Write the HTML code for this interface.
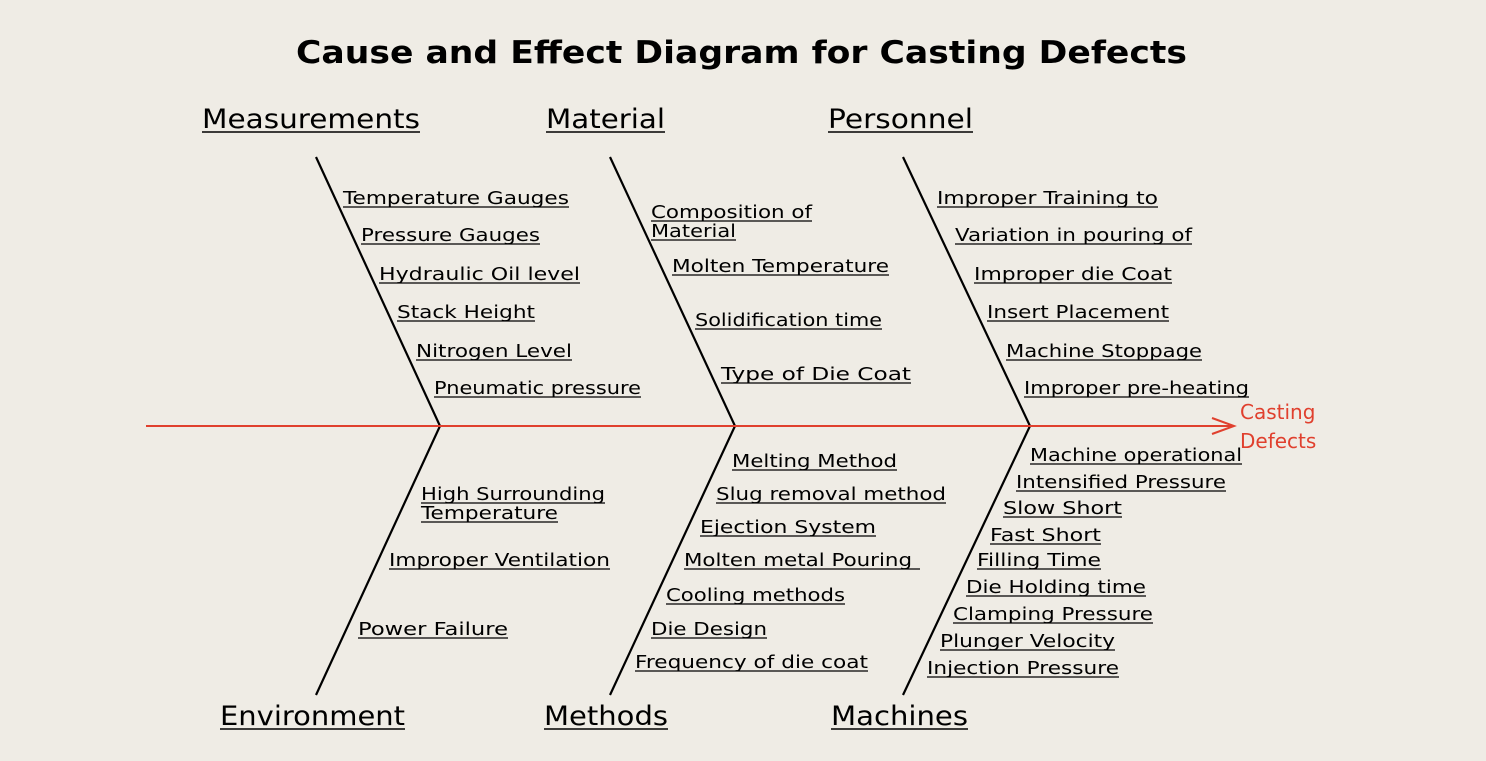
<!DOCTYPE html>
<html><head><meta charset="utf-8"><style>
html,body{margin:0;padding:0;background:#efece5;}
svg{display:block;}
text{font-family:"DejaVu Sans","Liberation Sans",sans-serif;fill:#000;}
</style></head><body>
<svg width="1486" height="761" viewBox="0 0 1486 761" xmlns="http://www.w3.org/2000/svg">
<rect width="1486" height="761" fill="#efece5"/>
<text x="296" y="63" font-size="31" font-weight="bold" textLength="891" lengthAdjust="spacingAndGlyphs">Cause and Effect Diagram for  Casting Defects</text>

<g stroke="#000" stroke-width="2.2" fill="none">
<polyline points="316,157 440,426 316,695"/>
<polyline points="610,157 735,426 610,695"/>
<polyline points="903,157 1030,426 903,695"/>
</g>
<line x1="146" y1="426" x2="1233" y2="426" stroke="#e0402e" stroke-width="2"/>
<polyline points="1212,418 1234,426 1212,434" stroke="#e0402e" stroke-width="2" fill="none"/>
<text x="1240" y="419" font-size="20" fill="#e0402e" style="fill:#e0402e">Casting</text>
<text x="1240" y="448" font-size="20" fill="#e0402e" style="fill:#e0402e">Defects</text>

<g font-size="27">
<text x="202" y="128" textLength="218" lengthAdjust="spacingAndGlyphs">Measurements</text>
<text x="546" y="128" textLength="119" lengthAdjust="spacingAndGlyphs">Material</text>
<text x="828" y="128" textLength="145" lengthAdjust="spacingAndGlyphs">Personnel</text>
<text x="220" y="725" textLength="185" lengthAdjust="spacingAndGlyphs">Environment</text>
<text x="544" y="725" textLength="124" lengthAdjust="spacingAndGlyphs">Methods</text>
<text x="831" y="725" textLength="137" lengthAdjust="spacingAndGlyphs">Machines</text>
</g>
<g stroke="#000" stroke-width="1.6">
<line x1="202" y1="132" x2="420" y2="132"/>
<line x1="546" y1="132" x2="665" y2="132"/>
<line x1="828" y1="132" x2="973" y2="132"/>
<line x1="220" y1="729" x2="405" y2="729"/>
<line x1="544" y1="729" x2="668" y2="729"/>
<line x1="831" y1="729" x2="968" y2="729"/>
</g>

<g font-size="18" lengthAdjust="spacingAndGlyphs">
<text x="343" y="204" textLength="226" lengthAdjust="spacingAndGlyphs">Temperature Gauges</text>
<text x="361" y="241" textLength="179" lengthAdjust="spacingAndGlyphs">Pressure Gauges</text>
<text x="379" y="280" textLength="201" lengthAdjust="spacingAndGlyphs">Hydraulic Oil level</text>
<text x="397" y="318" textLength="138" lengthAdjust="spacingAndGlyphs">Stack Height</text>
<text x="416" y="357" textLength="156" lengthAdjust="spacingAndGlyphs">Nitrogen Level</text>
<text x="434" y="394" textLength="207" lengthAdjust="spacingAndGlyphs">Pneumatic pressure</text>

<text x="651" y="218" textLength="161" lengthAdjust="spacingAndGlyphs">Composition of</text>
<text x="651" y="237" textLength="85" lengthAdjust="spacingAndGlyphs">Material</text>
<text x="672" y="272" textLength="217" lengthAdjust="spacingAndGlyphs">Molten Temperature</text>
<text x="695" y="326" textLength="187" lengthAdjust="spacingAndGlyphs">Solidification time</text>
<text x="721" y="380" textLength="190" lengthAdjust="spacingAndGlyphs">Type of Die Coat</text>

<text x="937" y="204" textLength="221" lengthAdjust="spacingAndGlyphs">Improper Training to</text>
<text x="955" y="241" textLength="237" lengthAdjust="spacingAndGlyphs">Variation in pouring of</text>
<text x="974" y="280" textLength="198" lengthAdjust="spacingAndGlyphs">Improper die Coat</text>
<text x="987" y="318" textLength="182" lengthAdjust="spacingAndGlyphs">Insert Placement</text>
<text x="1006" y="357" textLength="196" lengthAdjust="spacingAndGlyphs">Machine Stoppage</text>
<text x="1024" y="394" textLength="225" lengthAdjust="spacingAndGlyphs">Improper pre-heating</text>

<text x="1030" y="461" textLength="212" lengthAdjust="spacingAndGlyphs">Machine operational</text>
<text x="1016" y="488" textLength="210" lengthAdjust="spacingAndGlyphs">Intensified Pressure</text>
<text x="1003" y="514" textLength="119" lengthAdjust="spacingAndGlyphs">Slow Short</text>
<text x="990" y="541" textLength="111" lengthAdjust="spacingAndGlyphs">Fast Short</text>
<text x="977" y="566" textLength="124" lengthAdjust="spacingAndGlyphs">Filling Time</text>
<text x="966" y="593" textLength="180" lengthAdjust="spacingAndGlyphs">Die Holding time</text>
<text x="953" y="620" textLength="200" lengthAdjust="spacingAndGlyphs">Clamping Pressure</text>
<text x="940" y="647" textLength="175" lengthAdjust="spacingAndGlyphs">Plunger Velocity</text>
<text x="927" y="674" textLength="192" lengthAdjust="spacingAndGlyphs">Injection Pressure</text>

<text x="732" y="467" textLength="165" lengthAdjust="spacingAndGlyphs">Melting Method</text>
<text x="716" y="500" textLength="230" lengthAdjust="spacingAndGlyphs">Slug removal method</text>
<text x="700" y="533" textLength="176" lengthAdjust="spacingAndGlyphs">Ejection System</text>
<text x="684" y="566" textLength="228" lengthAdjust="spacingAndGlyphs">Molten metal Pouring</text>
<text x="666" y="601" textLength="179" lengthAdjust="spacingAndGlyphs">Cooling methods</text>
<text x="651" y="635" textLength="116" lengthAdjust="spacingAndGlyphs">Die Design</text>
<text x="635" y="668" textLength="233" lengthAdjust="spacingAndGlyphs">Frequency of die coat</text>

<text x="421" y="500" textLength="184" lengthAdjust="spacingAndGlyphs">High Surrounding</text>
<text x="421" y="519" textLength="137" lengthAdjust="spacingAndGlyphs">Temperature</text>
<text x="389" y="566" textLength="221" lengthAdjust="spacingAndGlyphs">Improper Ventilation</text>
<text x="358" y="635" textLength="150" lengthAdjust="spacingAndGlyphs">Power Failure</text>
</g>

<g stroke="#000" stroke-width="1.3">
<line x1="343" y1="207" x2="569" y2="207"/>
<line x1="361" y1="244" x2="540" y2="244"/>
<line x1="379" y1="283" x2="580" y2="283"/>
<line x1="397" y1="321" x2="535" y2="321"/>
<line x1="416" y1="360" x2="572" y2="360"/>
<line x1="434" y1="397" x2="641" y2="397"/>
<line x1="651" y1="221" x2="812" y2="221"/>
<line x1="651" y1="240" x2="736" y2="240"/>
<line x1="672" y1="275" x2="889" y2="275"/>
<line x1="695" y1="329" x2="882" y2="329"/>
<line x1="721" y1="383" x2="911" y2="383"/>
<line x1="937" y1="207" x2="1158" y2="207"/>
<line x1="955" y1="244" x2="1192" y2="244"/>
<line x1="974" y1="283" x2="1172" y2="283"/>
<line x1="987" y1="321" x2="1169" y2="321"/>
<line x1="1006" y1="360" x2="1202" y2="360"/>
<line x1="1024" y1="397" x2="1249" y2="397"/>
<line x1="1030" y1="464" x2="1242" y2="464"/>
<line x1="1016" y1="491" x2="1226" y2="491"/>
<line x1="1003" y1="517" x2="1122" y2="517"/>
<line x1="990" y1="544" x2="1101" y2="544"/>
<line x1="977" y1="569" x2="1101" y2="569"/>
<line x1="966" y1="596" x2="1146" y2="596"/>
<line x1="953" y1="623" x2="1153" y2="623"/>
<line x1="940" y1="650" x2="1115" y2="650"/>
<line x1="927" y1="677" x2="1119" y2="677"/>
<line x1="732" y1="470" x2="897" y2="470"/>
<line x1="716" y1="503" x2="946" y2="503"/>
<line x1="700" y1="536" x2="876" y2="536"/>
<line x1="684" y1="569" x2="920" y2="569"/>
<line x1="666" y1="604" x2="845" y2="604"/>
<line x1="651" y1="638" x2="767" y2="638"/>
<line x1="635" y1="671" x2="868" y2="671"/>
<line x1="421" y1="503" x2="605" y2="503"/>
<line x1="421" y1="522" x2="558" y2="522"/>
<line x1="389" y1="569" x2="610" y2="569"/>
<line x1="358" y1="638" x2="508" y2="638"/>
</g>
</svg>
</body></html>
